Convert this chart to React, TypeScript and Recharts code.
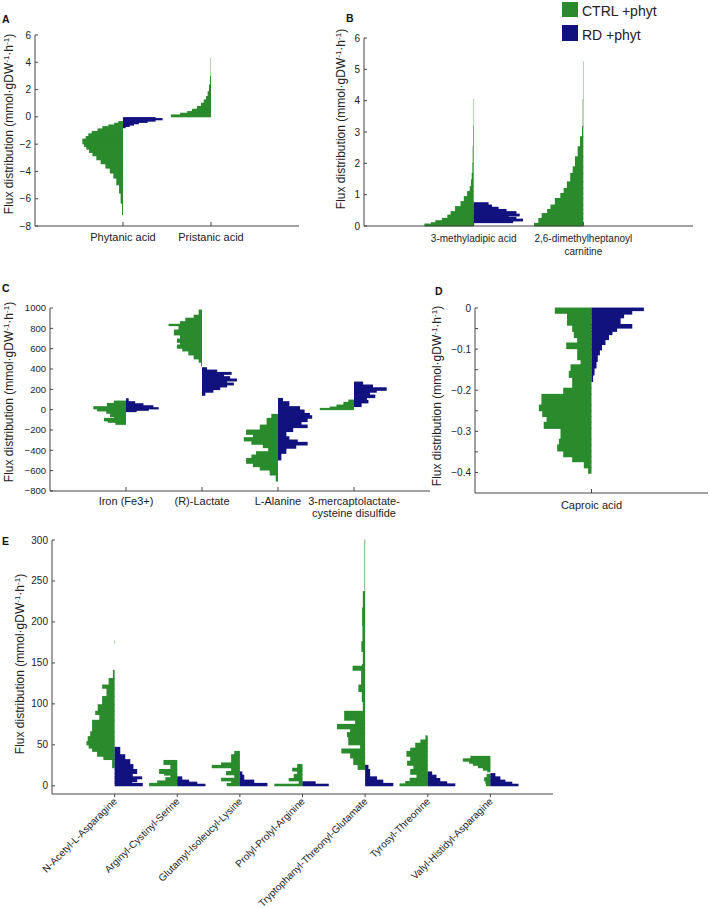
import React from 'react';
import { ComposedChart, XAxis, YAxis, Scatter, ReferenceArea } from 'recharts';

type Step = [number, number, number]; // [from value, to value, half-width in category units]

// ---------- Panel A ----------
const catsA = [['Phytanic acid'], ['Pristanic acid']];
const ticksA = [-8, -6, -4, -2, 0, 2, 4, 6];
const phytanicCtrl: Step[] = [[-0.34,-0.46,0.053],[-0.46,-0.59,0.10],[-0.59,-0.71,0.167],[-0.71,-0.88,0.235],[-0.88,-1.07,0.29],[-1.07,-1.24,0.356],[-1.24,-1.44,0.394],[-1.44,-1.63,0.424],[-1.63,-1.98,0.462],[-1.98,-2.17,0.443],[-2.17,-2.37,0.417],[-2.37,-2.61,0.386],[-2.61,-2.85,0.348],[-2.85,-3.15,0.303],[-3.15,-3.44,0.254],[-3.44,-3.76,0.2],[-3.76,-4.12,0.15],[-4.12,-4.49,0.11],[-4.49,-4.98,0.076],[-4.98,-5.59,0.045],[-5.59,-6.32,0.027],[-6.32,-7.17,0.011]];
const phytanicRd: Step[] = [[-0.05,-0.12,0.37],[-0.12,-0.22,0.45],[-0.22,-0.32,0.37],[-0.32,-0.41,0.28],[-0.41,-0.51,0.18],[-0.51,-0.61,0.125],[-0.61,-0.71,0.076],[-0.71,-0.8,0.03]];
const pristanicCtrl: Step[] = [[0,0.146,0.455],[0.146,0.27,0.35],[0.27,0.39,0.27],[0.39,0.56,0.216],[0.56,0.76,0.16],[0.76,1.0,0.114],[1.0,1.24,0.083],[1.24,1.49,0.057],[1.49,1.85,0.038],[1.85,2.34,0.023],[2.34,2.95,0.011],[2.95,4.3,0.004]];
const pristanicRd: Step[] = [];

// ---------- Panel B ----------
const catsB = [['3-methyladipic acid'], ['2,6-dimethylheptanoyl', 'carnitine']];
const ticksB = [0, 1, 2, 3, 4, 5, 6];
const methyladipicCtrl: Step[] = [[0,0.064,0.45],[0.064,0.106,0.39],[0.106,0.17,0.35],[0.17,0.245,0.29],[0.245,0.35,0.24],[0.35,0.46,0.21],[0.46,0.62,0.17],[0.62,0.78,0.12],[0.78,0.94,0.09],[0.94,1.1,0.06],[1.1,1.26,0.036],[1.26,1.47,0.024],[1.47,1.68,0.018],[1.68,2.0,0.012],[2.0,2.53,0.009],[2.53,3.17,0.006],[3.17,4.05,0.003]];
const methyladipicRd: Step[] = [[0.745,0.67,0.136],[0.67,0.6,0.167],[0.6,0.53,0.227],[0.53,0.46,0.3],[0.46,0.38,0.39],[0.38,0.32,0.42],[0.32,0.28,0.32],[0.28,0.22,0.39],[0.22,0.16,0.45],[0.16,0.106,0.36]];
const dimethylCtrl: Step[] = [[0,0.085,0.45],[0.085,0.245,0.41],[0.245,0.4,0.38],[0.4,0.53,0.33],[0.53,0.67,0.3],[0.67,0.88,0.26],[0.88,1.04,0.21],[1.04,1.2,0.18],[1.2,1.41,0.15],[1.41,1.68,0.12],[1.68,1.89,0.097],[1.89,2.21,0.076],[2.21,2.53,0.052],[2.53,2.85,0.03],[2.85,3.17,0.012],[3.17,4.02,0.006],[4.02,5.24,0.003]];
const dimethylRd: Step[] = [];

// ---------- Panel C ----------
const catsC = [['Iron (Fe3+)'], ['(R)-Lactate'], ['L-Alanine'], ['3-mercaptolactate-', 'cysteine disulfide']];
const ticksC = [-800, -600, -400, -200, 0, 200, 400, 600, 800, 1000];
const ironCtrl: Step[] = [[85,62,0.16],[62,30,0.25],[30,7,0.43],[7,-13,0.38],[-13,-36,0.26],[-36,-69,0.21],[-69,-85,0.16],[-85,-111,0.29],[-111,-125,0.24],[-125,-145,0.14]];
const ironRd: Step[] = [[108,79,0.035],[79,59,0.12],[59,39,0.23],[39,20,0.36],[20,7,0.43],[7,-7,0.3],[-7,-20,0.14]];
const lactateCtrl: Step[] = [[980,930,0.044],[930,900,0.11],[900,866,0.22],[866,840,0.29],[840,826,0.44],[826,784,0.31],[784,735,0.37],[735,695,0.29],[695,662,0.33],[662,636,0.29],[636,604,0.33],[604,577,0.26],[577,538,0.18],[538,499,0.11],[499,466,0.044],[466,430,0.013]];
const lactateRd: Step[] = [[413,390,0.066],[390,367,0.2],[367,347,0.39],[347,325,0.29],[325,302,0.37],[302,282,0.46],[282,262,0.33],[262,243,0.42],[243,223,0.33],[223,197,0.24],[197,171,0.15],[171,141,0.044]];
const alanineCtrl: Step[] = [[-46,-85,0.088],[-85,-151,0.15],[-151,-200,0.24],[-200,-243,0.42],[-243,-275,0.33],[-275,-308,0.45],[-308,-341,0.35],[-341,-374,0.2],[-374,-413,0.13],[-413,-446,0.29],[-446,-479,0.35],[-479,-528,0.42],[-528,-561,0.33],[-561,-594,0.24],[-594,-643,0.11],[-643,-702,0.03]];
const alanineRd: Step[] = [[111,79,0.066],[79,30,0.15],[30,-3,0.29],[-3,-36,0.35],[-36,-59,0.42],[-59,-85,0.45],[-85,-118,0.39],[-118,-151,0.31],[-151,-177,0.39],[-177,-216,0.2],[-216,-266,0.11],[-266,-298,0.15],[-298,-321,0.26],[-321,-348,0.39],[-348,-380,0.24],[-380,-430,0.11],[-430,-495,0.044]];
const mercaptoCtrl: Step[] = [[95,72,0.075],[72,46,0.14],[46,26,0.23],[26,13,0.32],[13,0,0.45]];
const mercaptoRd: Step[] = [[272,243,0.12],[243,216,0.25],[216,190,0.43],[190,171,0.3],[171,144,0.21],[144,118,0.28],[118,92,0.17],[92,66,0.19],[66,30,0.1]];

// ---------- Panel D ----------
const catsD = [['Caproic acid']];
const ticksD = [-0.4, -0.35, -0.3, -0.25, -0.2, -0.15, -0.1, -0.05, 0];
const caproicCtrl: Step[] = [[0,-0.013,0.315],[-0.013,-0.042,0.21],[-0.042,-0.057,0.166],[-0.057,-0.072,0.152],[-0.072,-0.085,0.123],[-0.085,-0.099,0.217],[-0.099,-0.126,0.123],[-0.126,-0.138,0.094],[-0.138,-0.154,0.18],[-0.154,-0.169,0.195],[-0.169,-0.195,0.166],[-0.195,-0.21,0.243],[-0.21,-0.236,0.43],[-0.236,-0.25,0.452],[-0.25,-0.264,0.423],[-0.264,-0.278,0.386],[-0.278,-0.293,0.41],[-0.293,-0.319,0.266],[-0.319,-0.333,0.28],[-0.333,-0.348,0.295],[-0.348,-0.362,0.243],[-0.362,-0.374,0.166],[-0.374,-0.389,0.066],[-0.389,-0.402,0.029]];
const caproicRd: Step[] = [[0,-0.0065,0.45],[-0.0065,-0.015,0.35],[-0.015,-0.024,0.28],[-0.024,-0.04,0.25],[-0.04,-0.049,0.35],[-0.049,-0.057,0.22],[-0.057,-0.065,0.18],[-0.065,-0.077,0.15],[-0.077,-0.089,0.12],[-0.089,-0.102,0.09],[-0.102,-0.114,0.072],[-0.114,-0.13,0.054],[-0.13,-0.146,0.043],[-0.146,-0.163,0.026],[-0.163,-0.179,0.014]];

// ---------- Panel E ----------
const catsE = [['N-Acetyl-L-Asparagine'], ['Arginyl-Cystinyl-Serine'], ['Glutamyl-Isoleucyl-Lysine'], ['Prolyl-Prolyl-Arginine'], ['Tryptophanyl-Threonyl-Glutamate'], ['Tyrosyl-Threonine'], ['Valyl-Histidyl-Asparagine']];
const ticksE = [0, 50, 100, 150, 200, 250, 300];
const acetylCtrl: Step[] = [[177,174,0.006],[141,131,0.027],[131,123,0.096],[123,119,0.2],[119,109,0.13],[109,99,0.2],[99,91,0.27],[91,87,0.31],[87,80,0.245],[80,66,0.36],[66,60,0.39],[60,54,0.43],[54,50,0.45],[50,46,0.415],[46,42,0.36],[42,36,0.28],[36,32,0.18],[32,22,0.04]];
const acetylRd: Step[] = [[47,38,0.09],[38,32,0.17],[32,26,0.25],[26,20,0.3],[20,15,0.36],[15,11,0.29],[11,8.5,0.44],[8.5,5,0.36],[5,3,0.28],[3,0,0.45]];
const arginylCtrl: Step[] = [[31,26,0.22],[26,20,0.11],[20,15,0.29],[15,13,0.21],[13,10,0.11],[10,6,0.19],[6,3,0.32],[3,0,0.45]];
const arginylRd: Step[] = [[11,7,0.08],[7,4.5,0.19],[4.5,2,0.32],[2,0,0.45]];
const glutamylCtrl: Step[] = [[42,38,0.09],[38,28,0.14],[28,25,0.3],[25,22,0.45],[22,17.5,0.14],[17.5,13.4,0.22],[13.4,9.3,0.09],[9.3,6,0.3],[6,3,0.14],[3,0,0.21]];
const glutamylRd: Step[] = [[17,13,0.04],[13,7,0.07],[7,3,0.23],[3,0,0.44]];
const prolylCtrl: Step[] = [[26,21.5,0.085],[21.5,18,0.165],[18,14,0.085],[14,9,0.14],[9,6,0.22],[6,2,0.06],[2,0,0.45]];
const prolylRd: Step[] = [[5,2,0.21],[2,0,0.42]];
const tryptoCtrl: Step[] = [[300,237,0.01],[237,217,0.037],[217,196,0.048],[196,176,0.043],[176,164,0.06],[164,148,0.037],[148,146,0.05],[146,141,0.2],[141,123,0.064],[123,115,0.107],[115,103,0.053],[103,91,0.037],[91,80,0.335],[80,75,0.16],[75,69.5,0.45],[69.5,65,0.24],[65,60,0.29],[60,50,0.27],[50,45,0.08],[45,40,0.38],[40,34,0.24],[34,26,0.19],[26,20,0.12]];
const tryptoRd: Step[] = [[25,20,0.053],[20,11,0.08],[11,7,0.19],[7,3,0.29],[3,0,0.45]];
const tyrosylCtrl: Step[] = [[61,56,0.037],[56,52,0.117],[52,46,0.2],[46,42,0.28],[42,36,0.34],[36,30,0.28],[30,25,0.33],[25,20,0.23],[20,14,0.28],[14,9.3,0.18],[9.3,5.3,0.29],[5.3,2.4,0.36],[2.4,0,0.45]];
const tyrosylRd: Step[] = [[17,13,0.07],[13,9,0.14],[9,5,0.2],[5,2.4,0.31],[2.4,0,0.44]];
const valylCtrl: Step[] = [[36,33,0.32],[33,30,0.44],[30,27.5,0.34],[27.5,25,0.28],[25,22,0.2],[22,19,0.12],[19,17,0.05],[14,10,0.06],[10,6,0.1],[6,3,0.08],[3,0,0.07]];
const valylRd: Step[] = [[15,11,0.08],[11,7,0.16],[7,4.5,0.24],[4.5,2,0.35],[2,0,0.45]];

const legendItems = ['CTRL +phyt', 'RD +phyt'];

// ---------- styles ----------
const GREEN = '#2a8b2c';
const BLUE = '#12127f';
const AXIS = '#444';
const TEXT = '#222';
const FONT = '"Liberation Sans", Arial, Helvetica, sans-serif';

interface Group { ctrl: Step[]; rd: Step[] }
interface PanelProps {
  left: number; top: number; width: number; height: number;
  margin: { top: number; right: number; bottom: number; left: number };
  yAxisWidth: number; xAxisHeight: number;
  xDomain: [number, number]; yDomain: [number, number]; yTicks: number[];
  labels: string[][]; groups: Group[];
  yFmt: (v: number) => string; yFont: number;
  catFont: number; catDy: number; lineGap?: number; rotate?: boolean;
}

const fmtMinus = (v: number) => (v < 0 ? '\u2212' : '') + String(Math.abs(v));

// bar shape: overlaps neighbours by a fraction of a pixel to avoid seams
const binShape = (color: string) => (props: any) => {
  const { x, y, width, height } = props;
  if (![x, y, width, height].every((n) => Number.isFinite(n))) return <g />;
  return <rect x={x} y={y - 0.45} width={Math.max(width, 0.35)} height={height + 0.9} fill={color} stroke="none" />;
};
const greenShape = binShape(GREEN);
const blueShape = binShape(BLUE);

function Panel(p: PanelProps) {
  const anchors = p.labels.map((_, i) => ({ x: i + 1, y: p.yDomain[1] }));
  const xTicks = p.labels.map((_, i) => i + 1);
  const CatTick = (props: any) => {
    const { x, y, payload } = props;
    const lines = p.labels[Math.round(payload.value) - 1] || [];
    return (
      <g>
        <line x1={x} x2={x} y1={y} y2={p.rotate ? y + 3 : y - 4} stroke={AXIS} strokeWidth={1} />
        {p.rotate ? (
          <text x={x + 3} y={y + 8} transform={`rotate(-45 ${x + 3} ${y + 8})`} textAnchor="end"
            fontSize={p.catFont} fontFamily={FONT} fill={TEXT}>{lines[0]}</text>
        ) : (
          <text x={x} y={y + p.catDy} textAnchor="middle" fontSize={p.catFont} fontFamily={FONT} fill={TEXT}>
            {lines.map((l, i) => (
              <tspan key={i} x={x} dy={i === 0 ? 0 : p.lineGap || 13}>{l}</tspan>
            ))}
          </text>
        )}
      </g>
    );
  };
  const ValTick = (props: any) => {
    const { x, y, payload } = props;
    return (
      <g>
        <line x1={x} x2={x + 3} y1={y} y2={y} stroke={AXIS} strokeWidth={1} />
        <text x={x - 4} y={y} dy="0.35em" textAnchor="end" fontSize={p.yFont} fontFamily={FONT} fill={TEXT}>
          {p.yFmt(payload.value)}
        </text>
      </g>
    );
  };
  const areas: React.ReactNode[] = [];
  p.groups.forEach((g, gi) => {
    const c = gi + 1;
    g.ctrl.forEach((s, i) => areas.push(
      <ReferenceArea key={`c${gi}-${i}`} x1={c - s[2]} x2={c} y1={s[0]} y2={s[1]}
        fill={GREEN} fillOpacity={1} ifOverflow="visible" shape={greenShape} />));
    g.rd.forEach((s, i) => areas.push(
      <ReferenceArea key={`r${gi}-${i}`} x1={c} x2={c + s[2]} y1={s[0]} y2={s[1]}
        fill={BLUE} fillOpacity={1} ifOverflow="visible" shape={blueShape} />));
  });
  return (
    <div style={{ position: 'absolute', left: p.left, top: p.top }}>
      <ComposedChart width={p.width} height={p.height} margin={p.margin} data={anchors}>
        <XAxis type="number" dataKey="x" domain={p.xDomain} ticks={xTicks} interval={0}
          allowDataOverflow tickSize={0} tickMargin={0} tickLine={false}
          axisLine={{ stroke: AXIS, strokeWidth: 1 }} height={p.xAxisHeight} tick={CatTick} />
        <YAxis type="number" dataKey="y" domain={p.yDomain} ticks={p.yTicks} interval={0}
          allowDataOverflow width={p.yAxisWidth} tickSize={0} tickMargin={0}
          tickLine={false} axisLine={{ stroke: AXIS, strokeWidth: 1 }}
          tick={ValTick} />
        {areas}
        <Scatter dataKey="y" fill="none" stroke="none" isAnimationActive={false} legendType="none" />
      </ComposedChart>
    </div>
  );
}

const YLabel = ({ x, y }: { x: number; y: number }) => (
  <text transform={`translate(${x},${y}) rotate(-90)`} textAnchor="middle" fontSize={12}
    fontFamily={FONT} fill={TEXT}>
    <tspan>Flux distribution (mmol·gDW</tspan>
    <tspan fontSize={8} dy={-4.5}>-1</tspan>
    <tspan dy={4.5}>·h</tspan>
    <tspan fontSize={8} dy={-4.5}>-1</tspan>
    <tspan dy={4.5}>)</tspan>
  </text>
);

const Letter = ({ x, y, t }: { x: number; y: number; t: string }) => (
  <text x={x} y={y} fontSize={10.5} fontWeight="bold" fontFamily={FONT} fill="#111">{t}</text>
);

export default function App() {
  const fmtD = (v: number) => (Math.abs(Math.round(v * 100)) % 10 === 0 ? fmtMinus(Math.round(v * 10) / 10) : '');
  return (
    <div style={{ position: 'absolute', left: 0, top: 0, width: 709, height: 908, background: '#fff' }}>
      <Panel left={0} top={0} width={340} height={280}
        margin={{ top: 35, right: 41, bottom: 14, left: 0 }} yAxisWidth={35} xAxisHeight={40}
        xDomain={[0, 3]} yDomain={[-8, 6]} yTicks={ticksA} labels={catsA}
        groups={[{ ctrl: phytanicCtrl, rd: phytanicRd }, { ctrl: pristanicCtrl, rd: pristanicRd }]}
        yFmt={fmtMinus} yFont={10} catFont={11} catDy={15} />
      <Panel left={340} top={0} width={369} height={280}
        margin={{ top: 38, right: 16, bottom: 14, left: 0 }} yAxisWidth={24} xAxisHeight={40}
        xDomain={[0, 3]} yDomain={[0, 6]} yTicks={ticksB} labels={catsB}
        groups={[{ ctrl: methyladipicCtrl, rd: methyladipicRd }, { ctrl: dimethylCtrl, rd: dimethylRd }]}
        yFmt={fmtMinus} yFont={10} catFont={10} catDy={16} lineGap={13} />
      <Panel left={0} top={285} width={440} height={240}
        margin={{ top: 23, right: 10, bottom: 4, left: 0 }} yAxisWidth={50} xAxisHeight={30}
        xDomain={[0, 5]} yDomain={[-800, 1000]} yTicks={ticksC} labels={catsC}
        groups={[{ ctrl: ironCtrl, rd: ironRd }, { ctrl: lactateCtrl, rd: lactateRd }, { ctrl: alanineCtrl, rd: alanineRd }, { ctrl: mercaptoCtrl, rd: mercaptoRd }]}
        yFmt={fmtMinus} yFont={9.5} catFont={11} catDy={14} lineGap={12} />
      <Panel left={420} top={285} width={289} height={240}
        margin={{ top: 23, right: 1, bottom: 4, left: 0 }} yAxisWidth={55} xAxisHeight={28}
        xDomain={[0, 2]} yDomain={[-0.45, 0]} yTicks={ticksD} labels={catsD}
        groups={[{ ctrl: caproicCtrl, rd: caproicRd }]}
        yFmt={fmtD} yFont={10} catFont={11} catDy={16} />
      <Panel left={0} top={525} width={709} height={383}
        margin={{ top: 15, right: 156, bottom: 14, left: 0 }} yAxisWidth={52} xAxisHeight={100}
        xDomain={[0, 8]} yDomain={[-10, 300]} yTicks={ticksE} labels={catsE}
        groups={[{ ctrl: acetylCtrl, rd: acetylRd }, { ctrl: arginylCtrl, rd: arginylRd }, { ctrl: glutamylCtrl, rd: glutamylRd }, { ctrl: prolylCtrl, rd: prolylRd }, { ctrl: tryptoCtrl, rd: tryptoRd }, { ctrl: tyrosylCtrl, rd: tyrosylRd }, { ctrl: valylCtrl, rd: valylRd }]}
        yFmt={fmtMinus} yFont={10} catFont={10} catDy={8} rotate />
      <svg width={709} height={908} style={{ position: 'absolute', left: 0, top: 0, pointerEvents: 'none' }}>
        <Letter x={2} y={22.5} t="A" />
        <Letter x={346} y={22} t="B" />
        <Letter x={2} y={292} t="C" />
        <Letter x={435} y={294.5} t="D" />
        <Letter x={2} y={545} t="E" />
        <YLabel x={13} y={124} />
        <YLabel x={345} y={119} />
        <YLabel x={13} y={392} />
        <YLabel x={441} y={396} />
        <YLabel x={24} y={664} />
        <rect x={562} y={2} width={16} height={15} fill={GREEN} />
        <text x={582} y={16} fontSize={14} fontFamily={FONT} fill={TEXT}>{legendItems[0]}</text>
        <rect x={562} y={25} width={16} height={16} fill={BLUE} />
        <text x={582} y={40} fontSize={14} fontFamily={FONT} fill={TEXT}>{legendItems[1]}</text>
      </svg>
    </div>
  );
}
